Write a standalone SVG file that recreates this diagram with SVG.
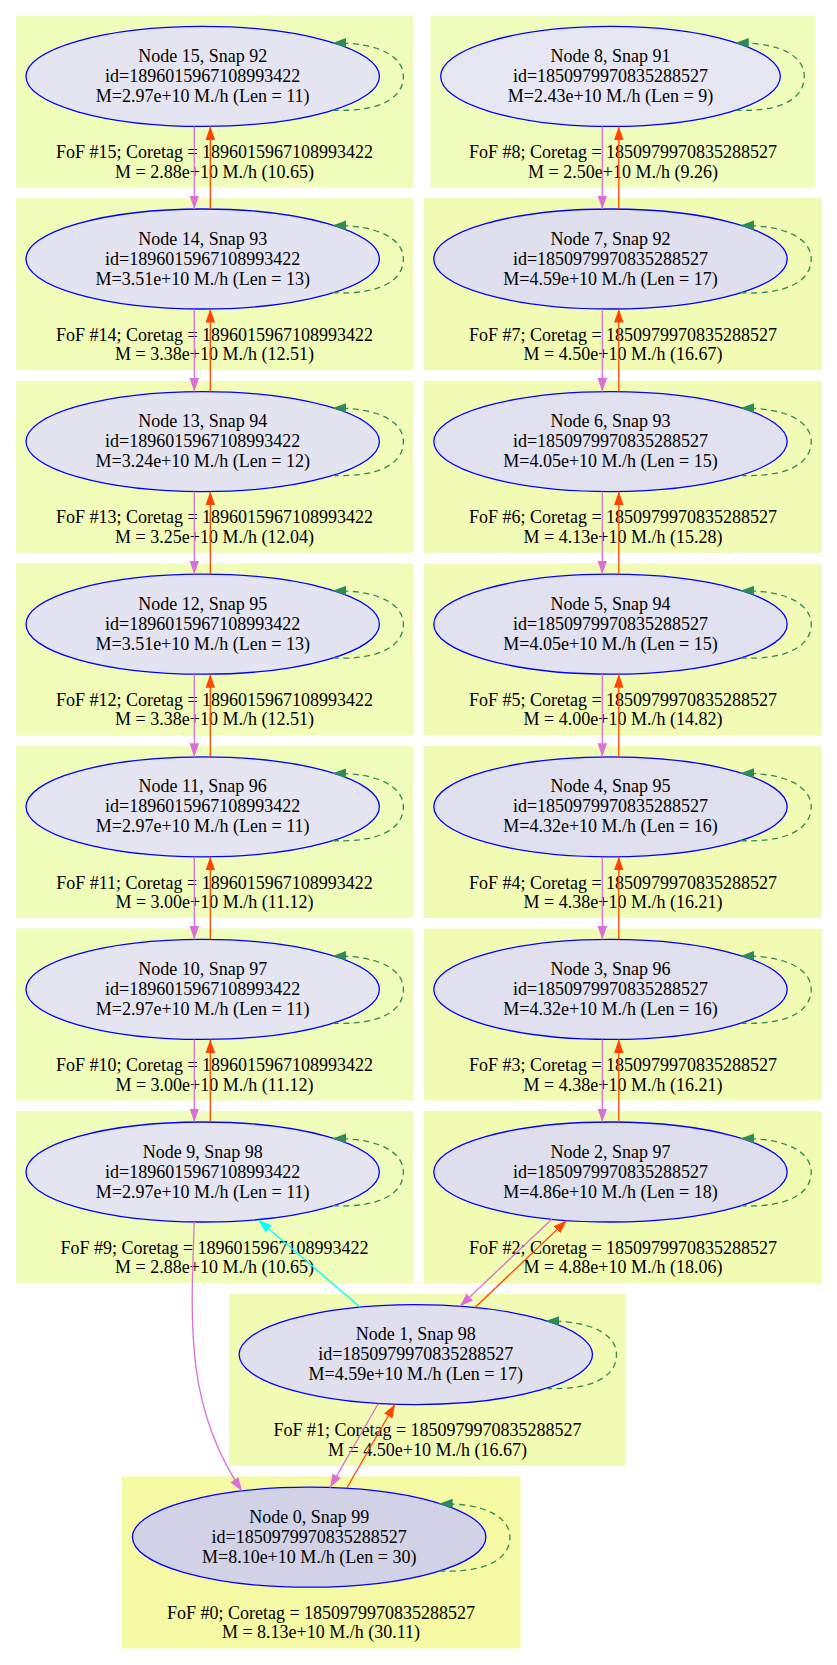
<svg xmlns="http://www.w3.org/2000/svg" width="837" height="1665" viewBox="0 0 837 1665">
<style>
text{font-family:"Liberation Serif","Times New Roman",serif;font-size:18px;text-anchor:middle;fill:#000}
.nd{stroke:#0000ff;stroke-width:1.3}
.e{fill:none;stroke-width:1.3}
.pk{stroke:#da70d6;marker-end:url(#a-pk)}
.or{stroke:#ff4500;marker-end:url(#a-or)}
.cy{stroke:#00ffff;marker-end:url(#a-cy)}
.lp{fill:none;stroke:#2e8b57;stroke-width:1.3;stroke-dasharray:6,4.5;marker-end:url(#a-gr)}
</style>
<defs>
<marker id="a-pk" viewBox="0 0 14 10" refX="13.5" refY="5" markerWidth="14" markerHeight="10" orient="auto" markerUnits="userSpaceOnUse"><path d="M0,0.2 L13.5,5 L0,9.8z" fill="#da70d6"/></marker>
<marker id="a-or" viewBox="0 0 14 10" refX="13.5" refY="5" markerWidth="14" markerHeight="10" orient="auto" markerUnits="userSpaceOnUse"><path d="M0,0.2 L13.5,5 L0,9.8z" fill="#ff4500"/></marker>
<marker id="a-cy" viewBox="0 0 14 10" refX="13.5" refY="5" markerWidth="14" markerHeight="10" orient="auto" markerUnits="userSpaceOnUse"><path d="M0,0.2 L13.5,5 L0,9.8z" fill="#00ffff"/></marker>
<marker id="a-gr" viewBox="0 0 14 10" refX="13.5" refY="5" markerWidth="14" markerHeight="10" orient="auto" markerUnits="userSpaceOnUse"><path d="M0,0.2 L13.5,5 L0,9.8z" fill="#2e8b57"/></marker>
</defs>

<g id="clusters">
<g id="cluster15"><rect x="16" y="15.6" width="397" height="172" fill="#f0fcba"/><text x="214.5" y="158.1">FoF #15; Coretag = 1896015967108993422<tspan x="214.5" dy="19.5">M = 2.88e+10 M./h (10.65)</tspan></text></g>
<g id="cluster14"><rect x="16" y="198.2" width="397" height="172" fill="#f1fcb8"/><text x="214.5" y="340.7">FoF #14; Coretag = 1896015967108993422<tspan x="214.5" dy="19.5">M = 3.38e+10 M./h (12.51)</tspan></text></g>
<g id="cluster13"><rect x="16" y="380.8" width="397" height="172" fill="#f1fcb9"/><text x="214.5" y="523.3">FoF #13; Coretag = 1896015967108993422<tspan x="214.5" dy="19.5">M = 3.25e+10 M./h (12.04)</tspan></text></g>
<g id="cluster12"><rect x="16" y="563.4" width="397" height="172" fill="#f1fcb8"/><text x="214.5" y="705.9">FoF #12; Coretag = 1896015967108993422<tspan x="214.5" dy="19.5">M = 3.38e+10 M./h (12.51)</tspan></text></g>
<g id="cluster11"><rect x="16" y="746" width="397" height="172" fill="#f0fcba"/><text x="214.5" y="888.5">FoF #11; Coretag = 1896015967108993422<tspan x="214.5" dy="19.5">M = 3.00e+10 M./h (11.12)</tspan></text></g>
<g id="cluster10"><rect x="16" y="928.6" width="397" height="172" fill="#f0fcba"/><text x="214.5" y="1071.1">FoF #10; Coretag = 1896015967108993422<tspan x="214.5" dy="19.5">M = 3.00e+10 M./h (11.12)</tspan></text></g>
<g id="cluster9"><rect x="16" y="1111.2" width="397" height="172" fill="#f0fcba"/><text x="214.5" y="1253.7">FoF #9; Coretag = 1896015967108993422<tspan x="214.5" dy="19.5">M = 2.88e+10 M./h (10.65)</tspan></text></g>

<g id="cluster8"><rect x="430.5" y="15.6" width="385" height="172" fill="#f0fcbc"/><text x="623" y="158.1">FoF #8; Coretag = 1850979970835288527<tspan x="623" dy="19.5">M = 2.50e+10 M./h (9.26)</tspan></text></g>
<g id="cluster7"><rect x="424" y="198.2" width="398" height="172" fill="#f2fbb3"/><text x="623" y="340.7">FoF #7; Coretag = 1850979970835288527<tspan x="623" dy="19.5">M = 4.50e+10 M./h (16.67)</tspan></text></g>
<g id="cluster6"><rect x="424" y="380.8" width="398" height="172" fill="#f1fbb5"/><text x="623" y="523.3">FoF #6; Coretag = 1850979970835288527<tspan x="623" dy="19.5">M = 4.13e+10 M./h (15.28)</tspan></text></g>
<g id="cluster5"><rect x="424" y="563.4" width="398" height="172" fill="#f1fbb6"/><text x="623" y="705.9">FoF #5; Coretag = 1850979970835288527<tspan x="623" dy="19.5">M = 4.00e+10 M./h (14.82)</tspan></text></g>
<g id="cluster4"><rect x="424" y="746" width="398" height="172" fill="#f2fbb4"/><text x="623" y="888.5">FoF #4; Coretag = 1850979970835288527<tspan x="623" dy="19.5">M = 4.38e+10 M./h (16.21)</tspan></text></g>
<g id="cluster3"><rect x="424" y="928.6" width="398" height="172" fill="#f2fbb4"/><text x="623" y="1071.1">FoF #3; Coretag = 1850979970835288527<tspan x="623" dy="19.5">M = 4.38e+10 M./h (16.21)</tspan></text></g>
<g id="cluster2"><rect x="424" y="1111.2" width="398" height="172" fill="#f2fbb2"/><text x="623" y="1253.7">FoF #2; Coretag = 1850979970835288527<tspan x="623" dy="19.5">M = 4.88e+10 M./h (18.06)</tspan></text></g>
<g id="cluster1"><rect x="229" y="1293.8" width="397" height="172" fill="#f2fbb3"/><text x="427.5" y="1436.3">FoF #1; Coretag = 1850979970835288527<tspan x="427.5" dy="19.5">M = 4.50e+10 M./h (16.67)</tspan></text></g>
<g id="cluster0"><rect x="122" y="1476.4" width="398.5" height="172" fill="#f5f9a4"/><text x="321" y="1618.9">FoF #0; Coretag = 1850979970835288527<tspan x="321" dy="19.5">M = 8.13e+10 M./h (30.11)</tspan></text></g>
</g>

<g id="nodes">
<g id="node15"><ellipse class="nd" cx="202.7" cy="76.4" rx="176.7" ry="50" fill="#e5e5f2"/><text x="202.7" y="61.9">Node 15, Snap 92<tspan x="202.7" dy="20">id=1896015967108993422</tspan><tspan x="202.7" dy="20">M=2.97e+10 M./h (Len = 11)</tspan></text></g>
<g id="node14"><ellipse class="nd" cx="202.7" cy="259" rx="176.7" ry="50" fill="#e3e3f1"/><text x="202.7" y="244.5">Node 14, Snap 93<tspan x="202.7" dy="20">id=1896015967108993422</tspan><tspan x="202.7" dy="20">M=3.51e+10 M./h (Len = 13)</tspan></text></g>
<g id="node13"><ellipse class="nd" cx="202.7" cy="441.6" rx="176.7" ry="50" fill="#e4e4f1"/><text x="202.7" y="427.1">Node 13, Snap 94<tspan x="202.7" dy="20">id=1896015967108993422</tspan><tspan x="202.7" dy="20">M=3.24e+10 M./h (Len = 12)</tspan></text></g>
<g id="node12"><ellipse class="nd" cx="202.7" cy="624.2" rx="176.7" ry="50" fill="#e3e3f1"/><text x="202.7" y="609.7">Node 12, Snap 95<tspan x="202.7" dy="20">id=1896015967108993422</tspan><tspan x="202.7" dy="20">M=3.51e+10 M./h (Len = 13)</tspan></text></g>
<g id="node11"><ellipse class="nd" cx="202.7" cy="806.8" rx="176.7" ry="50" fill="#e5e5f2"/><text x="202.7" y="792.3">Node 11, Snap 96<tspan x="202.7" dy="20">id=1896015967108993422</tspan><tspan x="202.7" dy="20">M=2.97e+10 M./h (Len = 11)</tspan></text></g>
<g id="node10"><ellipse class="nd" cx="202.7" cy="989.4" rx="176.7" ry="50" fill="#e5e5f2"/><text x="202.7" y="974.9">Node 10, Snap 97<tspan x="202.7" dy="20">id=1896015967108993422</tspan><tspan x="202.7" dy="20">M=2.97e+10 M./h (Len = 11)</tspan></text></g>
<g id="node9"><ellipse class="nd" cx="202.7" cy="1172" rx="176.7" ry="50" fill="#e5e5f2"/><text x="202.7" y="1157.5">Node 9, Snap 98<tspan x="202.7" dy="20">id=1896015967108993422</tspan><tspan x="202.7" dy="20">M=2.97e+10 M./h (Len = 11)</tspan></text></g>

<g id="node8"><ellipse class="nd" cx="610.5" cy="76.4" rx="169.8" ry="50" fill="#e7e7f3"/><text x="610.5" y="61.9">Node 8, Snap 91<tspan x="610.5" dy="20">id=1850979970835288527</tspan><tspan x="610.5" dy="20">M=2.43e+10 M./h (Len = 9)</tspan></text></g>
<g id="node7"><ellipse class="nd" cx="610.5" cy="259" rx="176.7" ry="50" fill="#dfdfee"/><text x="610.5" y="244.5">Node 7, Snap 92<tspan x="610.5" dy="20">id=1850979970835288527</tspan><tspan x="610.5" dy="20">M=4.59e+10 M./h (Len = 17)</tspan></text></g>
<g id="node6"><ellipse class="nd" cx="610.5" cy="441.6" rx="176.7" ry="50" fill="#e1e1ef"/><text x="610.5" y="427.1">Node 6, Snap 93<tspan x="610.5" dy="20">id=1850979970835288527</tspan><tspan x="610.5" dy="20">M=4.05e+10 M./h (Len = 15)</tspan></text></g>
<g id="node5"><ellipse class="nd" cx="610.5" cy="624.2" rx="176.7" ry="50" fill="#e1e1ef"/><text x="610.5" y="609.7">Node 5, Snap 94<tspan x="610.5" dy="20">id=1850979970835288527</tspan><tspan x="610.5" dy="20">M=4.05e+10 M./h (Len = 15)</tspan></text></g>
<g id="node4"><ellipse class="nd" cx="610.5" cy="806.8" rx="176.7" ry="50" fill="#e0e0ef"/><text x="610.5" y="792.3">Node 4, Snap 95<tspan x="610.5" dy="20">id=1850979970835288527</tspan><tspan x="610.5" dy="20">M=4.32e+10 M./h (Len = 16)</tspan></text></g>
<g id="node3"><ellipse class="nd" cx="610.5" cy="989.4" rx="176.7" ry="50" fill="#e0e0ef"/><text x="610.5" y="974.9">Node 3, Snap 96<tspan x="610.5" dy="20">id=1850979970835288527</tspan><tspan x="610.5" dy="20">M=4.32e+10 M./h (Len = 16)</tspan></text></g>
<g id="node2"><ellipse class="nd" cx="610.5" cy="1172" rx="176.7" ry="50" fill="#dedeed"/><text x="610.5" y="1157.5">Node 2, Snap 97<tspan x="610.5" dy="20">id=1850979970835288527</tspan><tspan x="610.5" dy="20">M=4.86e+10 M./h (Len = 18)</tspan></text></g>
<g id="node1"><ellipse class="nd" cx="415.8" cy="1354.6" rx="176.7" ry="50" fill="#dfdfee"/><text x="415.8" y="1340.1">Node 1, Snap 98<tspan x="415.8" dy="20">id=1850979970835288527</tspan><tspan x="415.8" dy="20">M=4.59e+10 M./h (Len = 17)</tspan></text></g>
<g id="node0"><ellipse class="nd" cx="309.2" cy="1537.2" rx="176.7" ry="50" fill="#d2d2e6"/><text x="309.2" y="1522.7">Node 0, Snap 99<tspan x="309.2" dy="20">id=1850979970835288527</tspan><tspan x="309.2" dy="20">M=8.10e+10 M./h (Len = 30)</tspan></text></g>
</g>

<g id="connectors">
<g id="selfloops">
<path class="lp" transform="translate(202.7,76.4)" d="M130,33.7 C172,36 200.7,24 200.7,0 C200.7,-18 180,-34 130,-33.5"/>
<path class="lp" transform="translate(202.7,259)" d="M130,33.7 C172,36 200.7,24 200.7,0 C200.7,-18 180,-34 130,-33.5"/>
<path class="lp" transform="translate(202.7,441.6)" d="M130,33.7 C172,36 200.7,24 200.7,0 C200.7,-18 180,-34 130,-33.5"/>
<path class="lp" transform="translate(202.7,624.2)" d="M130,33.7 C172,36 200.7,24 200.7,0 C200.7,-18 180,-34 130,-33.5"/>
<path class="lp" transform="translate(202.7,806.8)" d="M130,33.7 C172,36 200.7,24 200.7,0 C200.7,-18 180,-34 130,-33.5"/>
<path class="lp" transform="translate(202.7,989.4)" d="M130,33.7 C172,36 200.7,24 200.7,0 C200.7,-18 180,-34 130,-33.5"/>
<path class="lp" transform="translate(202.7,1172)" d="M130,33.7 C172,36 200.7,24 200.7,0 C200.7,-18 180,-34 130,-33.5"/>
<path class="lp" transform="translate(610.5,76.4)" d="M124.8,33.7 C166.8,36 193.8,24 193.8,0 C193.8,-18 174.8,-34 124.8,-33.5"/>
<path class="lp" transform="translate(610.5,259)" d="M130,33.7 C172,36 200.7,24 200.7,0 C200.7,-18 180,-34 130,-33.5"/>
<path class="lp" transform="translate(610.5,441.6)" d="M130,33.7 C172,36 200.7,24 200.7,0 C200.7,-18 180,-34 130,-33.5"/>
<path class="lp" transform="translate(610.5,624.2)" d="M130,33.7 C172,36 200.7,24 200.7,0 C200.7,-18 180,-34 130,-33.5"/>
<path class="lp" transform="translate(610.5,806.8)" d="M130,33.7 C172,36 200.7,24 200.7,0 C200.7,-18 180,-34 130,-33.5"/>
<path class="lp" transform="translate(610.5,989.4)" d="M130,33.7 C172,36 200.7,24 200.7,0 C200.7,-18 180,-34 130,-33.5"/>
<path class="lp" transform="translate(610.5,1172)" d="M130,33.7 C172,36 200.7,24 200.7,0 C200.7,-18 180,-34 130,-33.5"/>
<path class="lp" transform="translate(415.8,1354.6)" d="M130,33.7 C172,36 200.7,24 200.7,0 C200.7,-18 180,-34 130,-33.5"/>
<path class="lp" transform="translate(309.2,1537.2)" d="M130,33.7 C172,36 200.7,24 200.7,0 C200.7,-18 180,-34 130,-33.5"/>
</g>
<g id="left-chain">
<path class="e pk" d="M194.3,126.4 V209"/>
<path class="e or" d="M210.3,209 V126.4"/>
<path class="e pk" d="M194.3,309 V391.6"/>
<path class="e or" d="M210.3,391.6 V309"/>
<path class="e pk" d="M194.3,491.6 V574.2"/>
<path class="e or" d="M210.3,574.2 V491.6"/>
<path class="e pk" d="M194.3,674.2 V756.8"/>
<path class="e or" d="M210.3,756.8 V674.2"/>
<path class="e pk" d="M194.3,856.8 V939.4"/>
<path class="e or" d="M210.3,939.4 V856.8"/>
<path class="e pk" d="M194.3,1039.4 V1122"/>
<path class="e or" d="M210.3,1122 V1039.4"/>
</g>
<g id="right-chain">
<path class="e pk" d="M602.3,126.4 V209"/>
<path class="e or" d="M618.8,209 V126.4"/>
<path class="e pk" d="M602.3,309 V391.6"/>
<path class="e or" d="M618.8,391.6 V309"/>
<path class="e pk" d="M602.3,491.6 V574.2"/>
<path class="e or" d="M618.8,574.2 V491.6"/>
<path class="e pk" d="M602.3,674.2 V756.8"/>
<path class="e or" d="M618.8,756.8 V674.2"/>
<path class="e pk" d="M602.3,856.8 V939.4"/>
<path class="e or" d="M618.8,939.4 V856.8"/>
<path class="e pk" d="M602.3,1039.4 V1122"/>
<path class="e or" d="M618.8,1122 V1039.4"/>
</g>
<g id="cross-edges">
<path class="e pk" d="M194.3,1222 C190,1330 187,1410 242,1491"/>
<path class="e cy" d="M360,1307 L258.5,1220"/>
<path class="e pk" d="M551.7,1219.2 L460,1306.2"/>
<path class="e or" d="M475,1307.5 L566.7,1220.4"/>
<path class="e pk" d="M378.3,1403.5 L330,1487.6"/>
<path class="e or" d="M346.7,1488.3 L395,1404.3"/>
</g>
</g>
</svg>
